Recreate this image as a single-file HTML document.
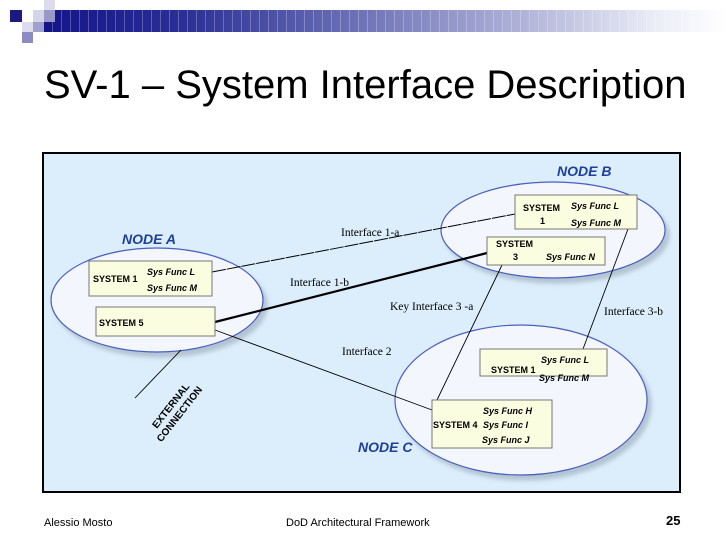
<!DOCTYPE html>
<html><head><meta charset="utf-8"><style>
body{margin:0;width:728px;height:546px;background:#fff;position:relative;overflow:hidden;font-family:"Liberation Sans",sans-serif}
.a{position:absolute}
</style></head><body>
<div class="a" style="left:44px;top:10px;width:684px;height:22px;background:linear-gradient(90deg,#14148a 0%,#2a2e95 20%,#6a6fb5 45%,#b0b3d8 70%,#eceef7 90%,#fff 100%)"></div>
<div class="a" style="left:44px;top:10px;width:684px;height:22px;background:repeating-linear-gradient(90deg,rgba(255,255,255,0) 0 8px,rgba(255,255,255,.25) 8px 9px)"></div>
<div class="a" style="left:10px;top:10px;width:12px;height:12px;background:#1a1a80"></div>
<div class="a" style="left:44px;top:0;width:11px;height:10px;background:#dcdcee"></div>
<div class="a" style="left:33px;top:10px;width:11px;height:12px;background:#d5d5ea"></div>
<div class="a" style="left:44px;top:10px;width:11px;height:12px;background:#9999c8"></div>
<div class="a" style="left:22px;top:22px;width:11px;height:10px;background:#dcdcee"></div>
<div class="a" style="left:33px;top:22px;width:11px;height:10px;background:#a0a0cc"></div>
<div class="a" style="left:22px;top:32px;width:11px;height:11px;background:#8c8cc4"></div>
<div class="a" style="left:44px;top:63px;font-size:40px;color:#000;white-space:nowrap">SV-1 – System Interface Description</div>

<svg class="a" style="left:0;top:0" width="728" height="546" font-family="Liberation Sans, sans-serif">
<defs><filter id="sh" x="-10%" y="-10%" width="130%" height="130%"><feDropShadow dx="4" dy="5" stdDeviation="2" flood-color="#8899aa" flood-opacity=".5"/></filter></defs>
<rect x="43" y="153" width="637" height="339" fill="#dceefb" stroke="#000" stroke-width="2"/>
<ellipse cx="157" cy="300" rx="106" ry="52" fill="#f3f7fd" stroke="#4a5fc0" stroke-width="1.2" filter="url(#sh)"/>
<ellipse cx="553" cy="230" rx="112" ry="48" fill="#f3f7fd" stroke="#4a5fc0" stroke-width="1.2" filter="url(#sh)"/>
<ellipse cx="521" cy="400" rx="126" ry="75" fill="#f3f7fd" stroke="#4a5fc0" stroke-width="1.2" filter="url(#sh)"/>
<g font-style="italic" font-weight="bold" fill="#1e3f9a" font-size="14">
<text x="122" y="244">NODE A</text><text x="557" y="176">NODE B</text><text x="358" y="452">NODE C</text></g>
<g stroke="#000" fill="none">
<line x1="212" y1="272" x2="515" y2="214" stroke-width="1" stroke-dasharray="14 1"/>
<line x1="215" y1="322" x2="487" y2="253" stroke-width="2.2"/>
<line x1="215" y1="330" x2="432" y2="410" stroke-width="0.9"/>
<line x1="502" y1="265" x2="437" y2="400" stroke-width="0.9"/>
<line x1="628" y1="229" x2="583" y2="349" stroke-width="0.9"/>
<line x1="181" y1="350" x2="135" y2="398" stroke-width="0.9"/>
</g>
<g fill="#fbfde0" stroke="#777" stroke-width="1">
<rect x="89" y="261" width="123" height="35"/><rect x="96" y="307" width="119" height="29"/>
<rect x="515" y="195" width="122" height="34"/><rect x="487" y="237" width="118" height="28"/>
<rect x="480" y="349" width="127" height="27"/><rect x="432" y="400" width="120" height="48"/>
</g>
<g font-size="9" font-weight="bold" fill="#000">
<text x="93" y="282">SYSTEM 1</text><text x="99" y="326">SYSTEM 5</text>
<text x="523" y="211">SYSTEM</text><text x="540" y="224">1</text>
<text x="496" y="247">SYSTEM</text><text x="513" y="260">3</text>
<text x="491" y="373">SYSTEM 1</text><text x="433" y="428">SYSTEM 4</text></g>
<g font-size="9" font-style="italic" font-weight="bold" fill="#000">
<text x="147" y="275">Sys Func L</text><text x="147" y="291">Sys Func M</text>
<text x="571" y="209">Sys Func L</text><text x="571" y="226">Sys Func M</text>
<text x="546" y="260">Sys Func N</text>
<text x="541" y="363">Sys Func L</text><text x="539" y="381">Sys Func M</text>
<text x="483" y="414">Sys Func H</text><text x="483" y="428">Sys Func I</text><text x="482" y="443">Sys Func J</text></g>
<g font-family="Liberation Serif, serif" font-size="11.5" fill="#000">
<text x="341" y="236">Interface 1-a</text><text x="290" y="286">Interface 1-b</text>
<text x="390" y="310">Key Interface 3 -a</text><text x="604" y="315">Interface 3-b</text>
<text x="342" y="355">Interface 2</text></g>
<g font-size="10" font-weight="bold" fill="#000" transform="translate(178,410) rotate(-52)">
<text x="-28" y="-5">EXTERNAL</text><text x="-36" y="7">CONNECTION</text></g>
<g font-size="11" fill="#000"><text x="44" y="526">Alessio Mosto</text><text x="286" y="526">DoD Architectural Framework</text>
<text x="666" y="525" font-weight="bold" font-size="13">25</text></g>
</svg>
</body></html>
